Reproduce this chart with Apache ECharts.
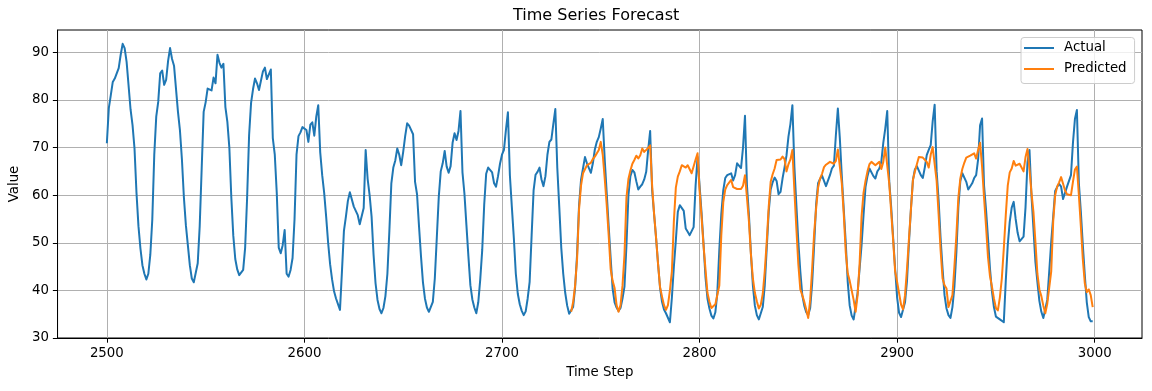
<!DOCTYPE html>
<html>
<head>
<meta charset="utf-8">
<script src="https://cdn.jsdelivr.net/npm/echarts@6/dist/echarts.min.js"></script>
<style>
html,body{margin:0;padding:0;background:#fff;}
#chart{width:1152px;height:391px;}
</style>
</head>
<body>
<div id="chart"></div>
<script>
// ---- data ----
const actualStart = 2500;
const actual = [
70.9,78.3,81.0,83.8,84.5,84.3,86.7,89.5,91.8,90.9,
88.0,88.0,78.0,74.7,69.8,60.5,53.5,48.8,45.3,43.5,
42.3,43.5,47.5,54.9,68.5,76.5,79.6,85.6,86.2,83.2,
84.2,88.2,90.9,88.6,87.2,87.5,77.5,73.6,67.5,59.5,
53.7,49.5,45.3,42.5,41.7,43.7,45.7,53.5,65.6,77.5,
79.5,82.4,82.4,82.0,84.7,83.5,89.5,87.8,86.8,87.6,
78.5,75.4,70.0,59.5,51.5,46.6,44.4,43.2,42.9,44.3,
49.0,59.5,72.6,79.4,82.3,84.5,83.5,82.1,82.3,86.0,
86.8,84.4,85.4,86.4,72.0,68.5,60.5,49.0,47.8,49.5,
52.7,43.5,42.9,44.3,46.8,55.0,68.5,72.4,73.2,74.3,
74.7,73.7,71.2,74.8,75.3,72.5,76.5,78.9,69.0,64.2,
60.5,55.5,50.0,45.5,42.3,39.8,38.3,38.3,35.9,44.0,
52.5,55.5,58.8,60.6,60.7,57.6,56.7,55.8,53.9,54.2,
57.3,69.5,63.4,60.0,55.5,47.5,41.5,38.0,36.1,35.2,
36.3,38.8,43.5,52.5,62.5,65.8,67.3,69.8,68.5,66.3,
69.1,72.4,75.1,74.6,74.4,72.8,62.8,60.2,53.5,47.2,
41.7,38.3,36.4,35.5,35.5,37.6,42.5,51.0,59.6,65.0,
66.7,69.3,66.0,64.7,66.1,71.0,73.0,71.6,73.5,77.7,
64.8,60.3,53.7,47.2,41.1,38.1,36.4,35.2,37.5,42.3,
48.5,58.0,64.5,65.8,65.5,64.8,62.5,61.8,64.0,66.6,
68.5,69.5,73.7,77.4,64.2,57.5,51.0,43.5,39.3,37.1,
35.7,34.8,35.6,38.3,41.8,51.5,61.0,64.3,64.9,65.8,
63.3,61.9,64.0,68.5,71.2,71.7,75.0,78.1,65.7,57.5,
49.0,43.5,39.5,36.8,35.1,35.2,36.5,40.5,47.5,57.8,
63.2,65.6,68.0,66.7,66.7,64.7,66.7,69.6,71.2,72.2,
74.0,76.0,67.5,60.5,53.5,46.8,40.4,37.5,36.4,35.7,
36.3,38.3,40.8,49.5,60.0,64.0,65.3,64.8,62.9,61.2,
61.8,62.3,63.3,64.9,69.5,73.5,61.0,56.0,51.0,45.6,
40.6,37.6,36.0,35.2,34.9,33.3,38.5,45.0,50.5,56.5,
57.9,57.9,56.7,53.0,52.3,51.6,51.3,53.3,62.0,68.0,
62.1,56.4,49.9,42.8,38.3,36.2,34.7,34.1,35.4,39.5,
48.5,56.0,61.0,63.6,64.2,64.5,64.6,63.1,64.2,66.7,
66.5,65.7,70.0,76.7,62.0,55.8,47.8,41.0,36.8,34.8,
33.9,33.8,36.5,41.0,48.8,56.5,61.2,62.7,63.7,63.0,
60.2,60.7,63.5,65.8,68.3,72.3,75.0,78.9,66.0,58.0,
50.2,44.0,39.0,36.8,35.4,34.8,36.3,41.5,49.5,58.0,
62.5,63.4,64.1,63.7,61.9,62.0,64.2,65.6,66.2,72.6,
78.2,72.0,64.0,57.0,50.0,41.8,36.8,34.7,33.9,34.0,
39.5,44.5,49.5,55.8,61.7,64.0,65.6,65.3,64.0,63.5,
65.0,65.6,67.0,71.0,74.0,77.7,63.0,57.5,51.0,44.5,
38.5,35.3,34.4,34.4,37.5,42.0,50.0,57.2,63.2,65.4,
66.1,66.3,64.2,63.6,65.8,68.4,69.5,70.5,75.5,79.0,
65.0,59.0,51.0,44.6,39.0,36.2,34.8,34.2,36.5,40.8,
48.0,57.5,63.0,64.6,64.6,62.8,61.2,61.5,62.5,63.6,
64.2,67.5,74.7,76.1,62.0,57.0,51.0,44.6,39.8,36.5,
34.5,34.2,33.9,33.8,33.3,42.0,49.5,54.4,57.4,58.6,
55.0,52.1,50.3,49.9,51.3,57.5,67.0,69.5,60.0,53.0,
46.0,41.8,37.8,35.5,34.2,34.6,38.0,44.0,50.2,55.5,
60.9,61.7,62.4,61.8,59.2,59.2,61.8,63.0,64.2,71.0,
76.0,77.9,62.5,56.5,49.5,43.2,37.5,34.4,33.5,33.5
];

const predictedStart = 2735;
const predicted = [
35.5,37.5,41.0,46.5,57.0,
62.0,64.6,64.9,66.3,66.4,66.8,67.6,68.1,68.2,69.5,
71.2,68.5,63.5,58.0,51.6,44.5,42.0,40.5,36.9,35.5,
36.9,41.0,47.5,59.5,63.4,65.2,66.6,67.4,68.3,67.7,
68.4,69.8,69.1,68.8,69.9,70.5,62.0,56.0,51.0,45.5,
40.7,38.7,36.9,35.9,36.9,40.0,44.0,54.5,61.6,63.9,
65.0,66.3,66.5,65.8,66.3,66.1,64.6,65.0,67.5,68.8,
61.0,55.5,49.5,44.5,39.5,37.6,36.3,36.5,37.1,36.8,
41.0,51.5,58.5,61.2,62.1,62.5,63.2,61.7,61.4,61.3,
61.1,61.3,62.0,64.2,59.5,54.5,47.5,42.5,39.5,37.7,
36.2,37.0,39.3,44.0,50.2,57.5,62.8,64.4,65.6,67.4,
67.3,67.5,68.1,67.6,65.0,66.5,67.5,69.5,61.0,53.0,
45.5,40.2,39.0,37.6,36.0,34.2,38.0,44.6,52.0,57.2,
61.6,63.5,64.5,65.9,66.4,66.4,67.0,67.3,66.6,67.2,
69.6,69.5,62.5,56.0,48.0,43.6,42.0,41.8,38.0,35.5,
39.0,45.5,55.5,60.5,63.0,65.0,66.5,67.0,66.7,66.3,
66.3,67.0,65.5,67.0,70.0,69.8,62.5,56.5,50.5,44.0,
41.8,41.5,37.0,36.0,39.0,44.5,50.9,57.0,63.2,65.0,
66.5,68.0,67.8,67.9,67.5,67.0,65.8,68.5,70.1,69.8,
63.0,56.0,48.5,42.5,41.1,40.4,36.5,36.2,39.0,45.0,
51.6,59.5,63.5,65.5,66.8,67.9,67.8,68.3,68.4,68.8,
67.7,69.5,71.0,66.0,59.5,53.5,47.0,43.0,40.8,38.3,
36.3,35.8,38.5,42.5,48.8,55.8,62.0,64.8,65.6,67.2,
66.2,66.0,66.6,66.3,65.0,68.0,69.7,65.5,60.5,56.5,
50.2,43.5,40.2,38.8,36.8,35.2,37.2,36.9,44.0,54.5,
60.0,61.8,62.7,63.8,62.4,61.0,60.2,60.0,60.0,62.8,
65.4,66.0,60.0,53.5,46.5,41.5,39.6,40.2,39.0,36.5
];

const xTicks = [2500, 2600, 2700, 2800, 2900, 3000];
const yTicks = [30, 40, 50, 60, 70, 80, 90];

// ---- chart ----
const FONT = 'DejaVu Sans';
const chart = echarts.init(document.getElementById('chart'), null, {renderer: 'canvas'});
const actualData = actual.map((v, i) => [actualStart + i, v]);
const predictedData = predicted.map((v, i) => [predictedStart + i, v]);

chart.setOption({
  animation: false,
  backgroundColor: '#ffffff',
  title: {
    text: 'Time Series Forecast',
    left: 513,
    top: 8,
    padding: 0,
    textStyle: {fontFamily: FONT, fontSize: 16, fontWeight: 'normal', color: '#000'}
  },
  legend: {
    data: ['Actual', 'Predicted'],
    orient: 'vertical',
    left: 1021,
    top: 37.5,
    icon: 'rect',
    itemWidth: 30,
    itemHeight: 2,
    itemGap: 5,
    padding: [2.5, 8, 6.5, 3],
    backgroundColor: 'rgba(255,255,255,0.8)',
    borderColor: '#cccccc',
    borderWidth: 1,
    borderRadius: 3,
    textStyle: {fontFamily: FONT, fontSize: 13.33, color: '#000', lineHeight: 16, padding: [0, 0, 0, 5]}
  },
  grid: {
    left: 57, right: 10, top: 30, bottom: 53,
    show: true, borderColor: '#000', borderWidth: 1, backgroundColor: 'transparent',
    containLabel: false
  },
  xAxis: {
    type: 'value',
    min: 2475.05,
    max: 3023.95,
    name: 'Time Step',
    nameLocation: 'middle',
    nameGap: 28,
    nameTextStyle: {fontFamily: FONT, fontSize: 13.33, color: '#000'},
    axisLine: {show: true, onZero: false, lineStyle: {color: '#000', width: 1}},
    axisTick: {show: true, inside: false, length: 4.7, customValues: xTicks, lineStyle: {color: '#000', width: 1}},
    axisLabel: {customValues: xTicks, margin: 9.4, fontFamily: FONT, fontSize: 13.33, color: '#000',
      formatter: function (v) { return String(Math.round(v)); }},
    splitLine: {show: true, lineStyle: {color: '#b0b0b0', width: 1}}
  },
  yAxis: {
    type: 'value',
    min: 30,
    max: 94.7,
    name: 'Value',
    nameLocation: 'middle',
    nameGap: 33,
    nameRotate: 90,
    nameTextStyle: {fontFamily: FONT, fontSize: 13.33, color: '#000'},
    axisLine: {show: true, onZero: false, lineStyle: {color: '#000', width: 1}},
    axisTick: {show: true, inside: false, length: 4.7, customValues: yTicks, lineStyle: {color: '#000', width: 1}},
    axisLabel: {customValues: yTicks, margin: 8.7, fontFamily: FONT, fontSize: 13.33, color: '#000',
      formatter: function (v) { return String(Math.round(v)); }},
    splitLine: {show: true, lineStyle: {color: '#b0b0b0', width: 1}}
  },
  series: [
    {
      name: 'Actual', type: 'line', data: actualData,
      showSymbol: false, symbol: 'none', sampling: null,
      lineStyle: {color: '#1f77b4', width: 2, join: 'round'},
      itemStyle: {color: '#1f77b4'}, z: 2
    },
    {
      name: 'Predicted', type: 'line', data: predictedData,
      showSymbol: false, symbol: 'none', sampling: null,
      lineStyle: {color: '#ff7f0e', width: 2, join: 'round'},
      itemStyle: {color: '#ff7f0e'}, z: 3
    }
  ]
});
</script>
</body>
</html>
